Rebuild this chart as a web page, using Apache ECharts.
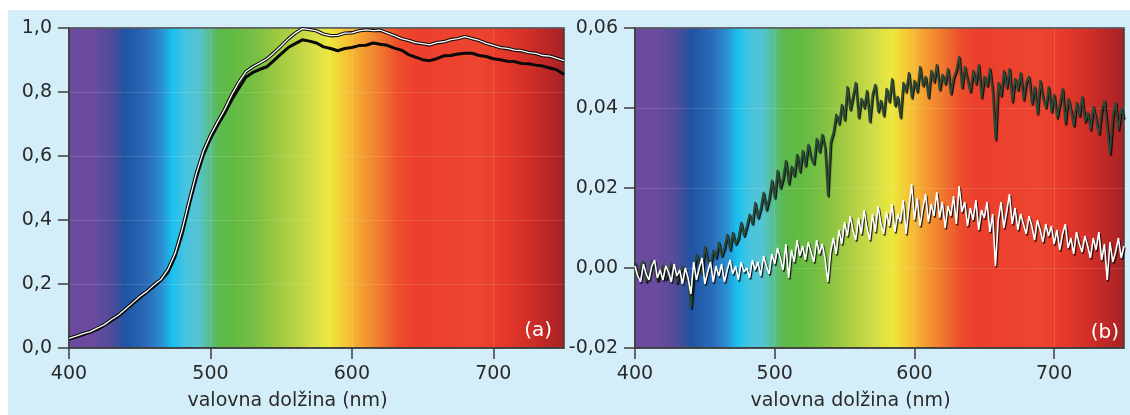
<!DOCTYPE html>
<html>
<head>
<meta charset="utf-8">
<title>Spekter</title>
<script src="https://cdn.jsdelivr.net/npm/echarts@6.0.0/dist/echarts.min.js"></script>
<style>
  html, body { margin: 0; padding: 0; background: #ffffff; }
  #bg { position: absolute; left: 8px; top: 10px; width: 1122px; height: 405px; background: #d4eef9; }
  #chart { position: absolute; left: 0; top: 0; width: 1130px; height: 415px; }
</style>
</head>
<body>
<div id="bg"></div>
<div id="chart"></div>
<script>
// wavelength grids (nm)
const nmStart = 400;
const stepA = 5;
const stepB = 2;
const xTicks = [400, 500, 600, 700];

// panel (a): two reflectance curves, 400..750 nm every 5 nm
const upperA = [
  0.030, 0.037, 0.045, 0.051, 0.062, 0.073, 0.089, 0.103, 0.122, 0.141,
  0.161, 0.177, 0.197, 0.214, 0.246, 0.295, 0.370, 0.460, 0.545, 0.615,
  0.665, 0.706, 0.745, 0.791, 0.830, 0.863, 0.879, 0.891, 0.904, 0.923,
  0.944, 0.966, 0.984, 0.998, 0.995, 0.991, 0.981, 0.976, 0.977, 0.984,
  0.985, 0.991, 0.994, 0.992, 0.993, 0.985, 0.976, 0.967, 0.961, 0.954,
  0.951, 0.947, 0.954, 0.957, 0.964, 0.967, 0.973, 0.967, 0.961, 0.952,
  0.946, 0.939, 0.936, 0.931, 0.929, 0.923, 0.921, 0.914, 0.912, 0.905,
  0.898
];
const lowerA = [
  0.028, 0.034, 0.042, 0.049, 0.058, 0.071, 0.085, 0.100, 0.119, 0.138,
  0.157, 0.175, 0.192, 0.211, 0.237, 0.285, 0.356, 0.447, 0.531, 0.603,
  0.654, 0.695, 0.733, 0.775, 0.811, 0.846, 0.861, 0.871, 0.879, 0.899,
  0.919, 0.939, 0.951, 0.963, 0.959, 0.953, 0.941, 0.936, 0.929, 0.936,
  0.939, 0.945, 0.946, 0.953, 0.949, 0.946, 0.937, 0.931, 0.917, 0.909,
  0.901, 0.898, 0.904, 0.913, 0.914, 0.919, 0.921, 0.921, 0.914, 0.911,
  0.904, 0.901, 0.896, 0.895, 0.889, 0.888, 0.884, 0.881, 0.875, 0.869,
  0.855
];

// panel (b): two difference spectra, 400..750 nm every 2 nm, in units of 0.001
const perMille = 0.001;
const greenB = [
  1.5, -2.5, 0.5, 1.8, -3.5, -1.0, 2.0, -0.5, -3.2, -2.0,
  0.8, -2.8, -1.5, 1.2, -0.5, -3.8, -1.2, 0.5, -2.5, -3.0,
  -10.0, -2.0, 3.5, 1.0, -1.5, 5.5, 2.0, 0.5, 4.5, 2.5,
  6.5, 3.0, 5.0, 8.5, 4.5, 9.0, 6.0, 7.5, 11.5, 8.0,
  10.5, 13.5, 11.0, 16.5, 12.5, 15.0, 19.0, 14.5, 17.5, 22.0,
  17.5, 24.5, 20.0, 22.5, 27.0, 21.0, 25.5, 23.0, 28.5, 24.0,
  29.5, 25.5, 31.0, 27.5, 26.0, 32.5, 29.0, 33.5, 30.0, 18.0,
  31.5, 34.0, 38.5, 36.0, 41.0, 37.0, 45.5, 39.5, 43.0, 46.5,
  37.5, 42.5, 40.0, 44.5, 36.5, 43.5, 46.0, 39.0, 42.0, 38.0,
  45.0, 41.5, 47.5, 40.5, 43.0, 37.5, 46.5, 44.0, 49.0, 42.5,
  47.0, 44.0, 50.5, 45.5, 48.0, 42.5, 49.5, 46.5, 51.0, 44.5,
  48.5, 46.0, 50.0, 43.5, 47.5, 49.5, 53.0, 45.0, 50.5, 47.0,
  44.0, 49.5, 46.0, 51.0, 42.5, 48.0, 45.5, 50.0, 44.0, 32.0,
  46.5, 43.0, 49.5, 45.0, 50.0, 41.5, 47.5, 44.5, 49.0, 42.0,
  46.5, 48.0, 41.0, 45.5, 38.5, 47.0, 42.5, 40.0, 45.5, 39.0,
  43.5, 37.5, 41.0, 45.0, 36.0, 42.5, 39.5, 35.5, 41.5, 38.0,
  43.0, 36.5, 39.0, 34.5, 40.5, 37.0, 33.5, 39.5, 42.0, 35.0,
  28.5, 38.0, 41.5, 34.5, 40.0, 37.5
];
const whiteB = [
  0.5, -2.0, -3.5, 1.0, -1.5, -3.0, 0.5, 2.0, -2.5, -0.5,
  -3.0, 0.5, -1.0, -3.5, 1.0, -2.0, -0.5, -4.0, 0.0, -2.5,
  -6.5, 1.5, -3.0, 0.0, 2.5, -4.0, -1.0, 1.5, -3.5, 0.5,
  -2.0, 1.0, -3.5, -0.5, 2.0, -1.5, 0.5, -3.0, 1.5, -1.0,
  0.0, -2.5, 2.0, -0.5, 1.5, -2.0, 3.0, 0.5, -1.5, 3.5,
  1.0, 5.0, 2.5, -0.5, 6.0, -2.5, 4.5, 1.5, 7.0, 3.0,
  5.5, 2.0, 6.5, 4.0, 1.5, 7.0, 3.5, 6.0, 2.5, -3.5,
  4.0, 7.5, 3.5, 9.5, 6.0, 11.5, 8.0, 13.0, 9.5, 7.0,
  12.5, 8.5, 14.5, 10.0, 7.0, 13.5, 9.0, 15.5, 11.0, 8.5,
  14.0, 10.5, 16.0, 9.0, 13.5, 11.5, 17.0, 8.5, 15.0, 21.0,
  12.0, 17.5, 10.5, 15.0, 18.5, 11.5, 16.0, 13.0, 19.0, 12.5,
  16.5, 10.0, 15.5, 13.0, 18.0, 11.0, 20.5, 14.0, 16.5, 10.5,
  15.0, 12.0, 17.0, 9.5, 14.5, 12.5, 16.5, 9.0, 13.5, 0.5,
  12.0, 16.5, 10.0, 14.0, 18.5, 11.0, 15.0, 9.5, 13.5, 11.0,
  8.5, 13.0, 10.5, 7.0, 12.0, 9.5, 6.5, 11.0, 8.0, 10.5,
  6.0, 9.5, 4.5, 8.5, 11.0, 5.0, 7.5, 3.5, 9.0, 6.0,
  4.0, 8.0, 5.5, 2.5, 7.5, 4.5, 9.0, 2.0, 6.0, -3.0,
  6.5, 1.5, 4.0, 7.5, 2.5, 5.5
];

const toPairs = (vals, step, unit) => vals.map((v, i) => [nmStart + i * step, v * (unit || 1)]);

// visible spectrum behind both plots
const spectrum = () => new echarts.graphic.LinearGradient(0, 0, 1, 0, [
  { offset: 0.00, color: '#6c4a9f' },
  { offset: 0.05, color: '#6a4b9e' },
  { offset: 0.09, color: '#4e4c99' },
  { offset: 0.115, color: '#1f54a3' },
  { offset: 0.16, color: '#2b6bb7' },
  { offset: 0.19, color: '#2a92d4' },
  { offset: 0.21, color: '#19c1ef' },
  { offset: 0.235, color: '#47c3de' },
  { offset: 0.262, color: '#54c4d2' },
  { offset: 0.285, color: '#58be8a' },
  { offset: 0.305, color: '#5cb94a' },
  { offset: 0.33, color: '#61ba44' },
  { offset: 0.375, color: '#76bf42' },
  { offset: 0.43, color: '#a4cb42' },
  { offset: 0.49, color: '#d2dd48' },
  { offset: 0.525, color: '#ece83e' },
  { offset: 0.56, color: '#f6c535' },
  { offset: 0.59, color: '#f4a131' },
  { offset: 0.63, color: '#f0772f' },
  { offset: 0.665, color: '#ed4d2c' },
  { offset: 0.70, color: '#ec3f2d' },
  { offset: 0.83, color: '#ec4530' },
  { offset: 0.875, color: '#e6392a' },
  { offset: 0.93, color: '#d02e28' },
  { offset: 1.00, color: '#a62124' }
]);

const FONT = '"DejaVu Sans"';
const TXT = '#2a2a2a';
const AX = '#3c3c3c';
const GRIDLINE = 'rgba(255,255,255,0.12)';

function xAxisFor(gridIndex) {
  return {
    type: 'value', gridIndex: gridIndex, min: 400, max: 750,
    name: 'valovna dolžina (nm)', nameLocation: 'middle', nameGap: 44,
    nameTextStyle: { color: TXT, fontFamily: FONT, fontSize: 19, padding: [0, 58, 0, 0] },
    axisLine: { show: true, onZero: false, lineStyle: { color: AX, width: 1.5 } },
    axisTick: { show: true, length: 11, customValues: xTicks, lineStyle: { color: AX, width: 1.5 } },
    axisLabel: { customValues: xTicks, margin: 17, color: TXT, fontFamily: FONT, fontSize: 19 },
    splitLine: { show: true, lineStyle: { color: GRIDLINE, width: 1 } }
  };
}

function yAxisFor(gridIndex, min, max, step, digits) {
  return {
    type: 'value', gridIndex: gridIndex, min: min, max: max, interval: step,
    axisLine: { show: true, onZero: false, lineStyle: { color: AX, width: 1.5 } },
    axisTick: { show: true, length: 11, lineStyle: { color: AX, width: 1.5 } },
    axisLabel: {
      margin: 17, color: TXT, fontFamily: FONT, fontSize: 19,
      formatter: v => v.toFixed(digits).replace('.', ',')
    },
    splitLine: { show: true, lineStyle: { color: GRIDLINE, width: 1 } }
  };
}

const gridBase = {
  show: true, top: 28, bottom: 67, borderColor: AX, borderWidth: 1.5,
  outerBoundsMode: 'none', containLabel: false
};

const shadowed = (color, w) => ({
  color: color, width: w,
  shadowColor: 'rgba(0,0,0,0.95)', shadowOffsetX: 1, shadowOffsetY: 1.5, shadowBlur: 1
});

const option = {
  animation: false,
  grid: [
    Object.assign({}, gridBase, { left: 69, right: 566, backgroundColor: spectrum() }),
    Object.assign({}, gridBase, { left: 635, right: 6, backgroundColor: spectrum() })
  ],
  xAxis: [xAxisFor(0), xAxisFor(1)],
  yAxis: [yAxisFor(0, 0, 1, 0.2, 1), yAxisFor(1, -0.02, 0.06, 0.02, 2)],
  graphic: [
    { type: 'text', right: 578, bottom: 74, style: { text: '(a)', fill: '#ffffff', font: '20px ' + FONT } },
    { type: 'text', right: 11, bottom: 72, style: { text: '(b)', fill: '#ffffff', font: '20px ' + FONT } }
  ],
  series: [
    // (a) lower curve: plain black
    { type: 'line', xAxisIndex: 0, yAxisIndex: 0, data: toPairs(lowerA, stepA), symbol: 'none', silent: true,
      lineStyle: { color: '#0a0a0a', width: 3 } },
    // (a) upper curve: black casing with white core
    { type: 'line', xAxisIndex: 0, yAxisIndex: 0, data: toPairs(upperA, stepA), symbol: 'none', silent: true,
      lineStyle: { color: '#0a0a0a', width: 3.4 } },
    { type: 'line', xAxisIndex: 0, yAxisIndex: 0, data: toPairs(upperA, stepA), symbol: 'none', silent: true,
      lineStyle: { color: '#ffffff', width: 1.3 } },
    // (b) green and white spectra with dark drop shadow
    { type: 'line', xAxisIndex: 1, yAxisIndex: 1, data: toPairs(greenB, stepB, perMille), symbol: 'none', silent: true,
      lineStyle: shadowed('#2c4a37', 1.8) },
    { type: 'line', xAxisIndex: 1, yAxisIndex: 1, data: toPairs(whiteB, stepB, perMille), symbol: 'none', silent: true,
      lineStyle: shadowed('#ffffff', 1.6) }
  ]
};

const myChart = echarts.init(document.getElementById('chart'));
myChart.setOption(option);
</script>
</body>
</html>
